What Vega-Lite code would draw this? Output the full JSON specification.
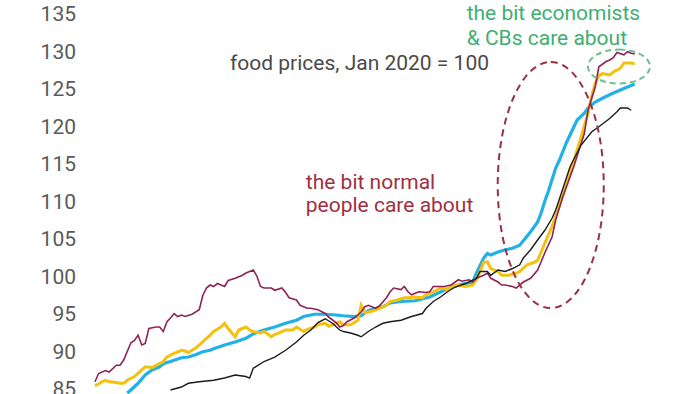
{
  "$schema": "https://vega.github.io/schema/vega-lite/v6.json",
  "width": 615,
  "height": 394,
  "autosize": {"type": "none"},
  "padding": {"left": 85, "top": 0, "right": 0, "bottom": 0},
  "background": "white",
  "config": {
    "view": {"stroke": null},
    "axisY": {"domain": false, "ticks": false, "grid": false, "title": null, "labels": false}
  },
  "datasets": {
    "ticks": [
      {"tick": 85}, {"tick": 90}, {"tick": 95}, {"tick": 100}, {"tick": 105}, {"tick": 110},
      {"tick": 115}, {"tick": 120}, {"tick": 125}, {"tick": 130}, {"tick": 135}
    ],
    "blue": [
      {"date": "2011-10", "value": 84.6}, {"date": "2011-11", "value": 85.0}, {"date": "2012-01", "value": 85.9},
      {"date": "2012-03", "value": 87.0}, {"date": "2012-05", "value": 87.7}, {"date": "2012-07", "value": 88.1},
      {"date": "2012-08", "value": 88.5}, {"date": "2012-10", "value": 88.8}, {"date": "2013-01", "value": 89.3},
      {"date": "2013-03", "value": 89.4}, {"date": "2013-05", "value": 89.7}, {"date": "2013-07", "value": 90.1},
      {"date": "2013-09", "value": 90.3}, {"date": "2013-10", "value": 90.5}, {"date": "2014-01", "value": 91.0},
      {"date": "2014-04", "value": 91.4}, {"date": "2014-07", "value": 91.9}, {"date": "2014-09", "value": 92.5},
      {"date": "2014-12", "value": 93.0}, {"date": "2015-03", "value": 93.4}, {"date": "2015-06", "value": 93.9},
      {"date": "2015-09", "value": 94.3}, {"date": "2015-11", "value": 94.8}, {"date": "2016-02", "value": 95.1},
      {"date": "2016-05", "value": 95.1}, {"date": "2016-08", "value": 95.0}, {"date": "2016-10", "value": 94.9},
      {"date": "2017-01", "value": 94.8}, {"date": "2017-03", "value": 94.9}, {"date": "2017-05", "value": 95.6},
      {"date": "2017-09", "value": 96.1}, {"date": "2017-11", "value": 96.6}, {"date": "2018-02", "value": 96.8},
      {"date": "2018-06", "value": 96.9}, {"date": "2018-10", "value": 97.4}, {"date": "2019-02", "value": 98.3},
      {"date": "2019-06", "value": 99.0}, {"date": "2019-10", "value": 99.4}, {"date": "2019-11", "value": 100.6},
      {"date": "2020-01", "value": 102.6}, {"date": "2020-02", "value": 103.2}, {"date": "2020-03", "value": 103.0},
      {"date": "2020-05", "value": 103.4}, {"date": "2020-07", "value": 103.7}, {"date": "2020-09", "value": 103.9},
      {"date": "2020-11", "value": 104.3}, {"date": "2020-12", "value": 104.9}, {"date": "2021-02", "value": 106.1},
      {"date": "2021-04", "value": 107.4}, {"date": "2021-05", "value": 108.6}, {"date": "2021-06", "value": 110.2},
      {"date": "2021-07", "value": 111.5}, {"date": "2021-09", "value": 114.6}, {"date": "2021-10", "value": 115.6},
      {"date": "2021-12", "value": 118.0}, {"date": "2022-03", "value": 121.0}, {"date": "2022-05", "value": 121.9},
      {"date": "2022-06", "value": 122.6}, {"date": "2022-08", "value": 123.4}, {"date": "2022-10", "value": 123.9},
      {"date": "2023-01", "value": 124.6}, {"date": "2023-04", "value": 125.2}, {"date": "2023-06", "value": 125.6},
      {"date": "2023-07", "value": 125.8}
    ],
    "yellow": [
      {"date": "2011-01", "value": 85.6}, {"date": "2011-02", "value": 85.8}, {"date": "2011-03", "value": 86.1},
      {"date": "2011-04", "value": 86.3}, {"date": "2011-05", "value": 86.1}, {"date": "2011-07", "value": 86.0},
      {"date": "2011-08", "value": 85.9}, {"date": "2011-09", "value": 85.9}, {"date": "2011-10", "value": 86.3},
      {"date": "2011-12", "value": 86.8}, {"date": "2012-02", "value": 87.7}, {"date": "2012-03", "value": 88.1},
      {"date": "2012-05", "value": 88.0}, {"date": "2012-06", "value": 88.3}, {"date": "2012-08", "value": 88.8},
      {"date": "2012-09", "value": 89.4}, {"date": "2012-11", "value": 89.9}, {"date": "2013-01", "value": 90.3},
      {"date": "2013-02", "value": 90.2}, {"date": "2013-03", "value": 90.0}, {"date": "2013-05", "value": 90.6},
      {"date": "2013-06", "value": 91.0}, {"date": "2013-08", "value": 91.9}, {"date": "2013-09", "value": 92.3},
      {"date": "2013-10", "value": 92.8}, {"date": "2013-12", "value": 93.4}, {"date": "2014-01", "value": 93.9},
      {"date": "2014-02", "value": 93.2}, {"date": "2014-04", "value": 92.1}, {"date": "2014-05", "value": 93.0},
      {"date": "2014-07", "value": 93.4}, {"date": "2014-08", "value": 93.0}, {"date": "2014-09", "value": 92.8},
      {"date": "2014-11", "value": 92.6}, {"date": "2014-12", "value": 92.8}, {"date": "2015-02", "value": 92.1},
      {"date": "2015-03", "value": 92.4}, {"date": "2015-04", "value": 92.6}, {"date": "2015-06", "value": 93.0},
      {"date": "2015-08", "value": 93.0}, {"date": "2015-09", "value": 93.4}, {"date": "2015-11", "value": 92.8},
      {"date": "2015-12", "value": 93.1}, {"date": "2016-02", "value": 93.4}, {"date": "2016-03", "value": 93.7},
      {"date": "2016-05", "value": 93.9}, {"date": "2016-06", "value": 93.5}, {"date": "2016-09", "value": 94.1},
      {"date": "2016-10", "value": 93.7}, {"date": "2016-12", "value": 93.7}, {"date": "2017-02", "value": 94.3},
      {"date": "2017-03", "value": 96.3}, {"date": "2017-04", "value": 95.3}, {"date": "2017-06", "value": 95.5},
      {"date": "2017-08", "value": 95.9}, {"date": "2017-10", "value": 96.3}, {"date": "2017-11", "value": 96.8},
      {"date": "2018-01", "value": 97.0}, {"date": "2018-03", "value": 97.3}, {"date": "2018-04", "value": 97.3},
      {"date": "2018-06", "value": 97.4}, {"date": "2018-08", "value": 97.3}, {"date": "2018-09", "value": 97.7},
      {"date": "2018-11", "value": 98.1}, {"date": "2019-01", "value": 98.6}, {"date": "2019-03", "value": 98.4},
      {"date": "2019-04", "value": 98.8}, {"date": "2019-06", "value": 99.0}, {"date": "2019-08", "value": 98.8},
      {"date": "2019-10", "value": 99.0}, {"date": "2019-11", "value": 99.7}, {"date": "2019-12", "value": 100.8},
      {"date": "2020-01", "value": 102.0}, {"date": "2020-02", "value": 102.1}, {"date": "2020-03", "value": 101.2},
      {"date": "2020-05", "value": 100.8}, {"date": "2020-06", "value": 100.3}, {"date": "2020-08", "value": 100.3},
      {"date": "2020-10", "value": 100.6}, {"date": "2020-11", "value": 100.8}, {"date": "2021-01", "value": 101.7},
      {"date": "2021-03", "value": 102.0}, {"date": "2021-04", "value": 102.3}, {"date": "2021-05", "value": 103.4},
      {"date": "2021-06", "value": 104.6}, {"date": "2021-08", "value": 106.8}, {"date": "2021-09", "value": 108.2},
      {"date": "2021-11", "value": 111.0}, {"date": "2022-01", "value": 113.9}, {"date": "2022-04", "value": 118.6},
      {"date": "2022-06", "value": 121.9}, {"date": "2022-07", "value": 124.1}, {"date": "2022-08", "value": 125.9},
      {"date": "2022-09", "value": 126.9}, {"date": "2022-10", "value": 127.2}, {"date": "2022-12", "value": 127.0},
      {"date": "2023-01", "value": 127.4}, {"date": "2023-03", "value": 127.9}, {"date": "2023-04", "value": 128.6},
      {"date": "2023-06", "value": 128.6}, {"date": "2023-07", "value": 128.5}
    ],
    "red": [
      {"date": "2011-01", "value": 86.1}, {"date": "2011-02", "value": 87.2}, {"date": "2011-04", "value": 87.6},
      {"date": "2011-05", "value": 87.4}, {"date": "2011-07", "value": 88.3}, {"date": "2011-08", "value": 88.3},
      {"date": "2011-09", "value": 89.0}, {"date": "2011-11", "value": 91.3}, {"date": "2011-12", "value": 91.6},
      {"date": "2012-01", "value": 92.3}, {"date": "2012-02", "value": 91.0}, {"date": "2012-03", "value": 91.2},
      {"date": "2012-04", "value": 93.2}, {"date": "2012-06", "value": 93.4}, {"date": "2012-07", "value": 93.4},
      {"date": "2012-08", "value": 92.8}, {"date": "2012-09", "value": 94.1}, {"date": "2012-10", "value": 94.6},
      {"date": "2012-11", "value": 95.2}, {"date": "2012-12", "value": 94.8}, {"date": "2013-01", "value": 95.0},
      {"date": "2013-02", "value": 94.8}, {"date": "2013-04", "value": 95.1}, {"date": "2013-06", "value": 95.7},
      {"date": "2013-07", "value": 97.6}, {"date": "2013-08", "value": 98.6}, {"date": "2013-09", "value": 99.0},
      {"date": "2013-10", "value": 98.8}, {"date": "2013-11", "value": 99.2}, {"date": "2014-01", "value": 98.8},
      {"date": "2014-02", "value": 99.6}, {"date": "2014-04", "value": 99.9}, {"date": "2014-06", "value": 100.3},
      {"date": "2014-07", "value": 100.6}, {"date": "2014-08", "value": 100.8}, {"date": "2014-09", "value": 101.0},
      {"date": "2014-10", "value": 100.2}, {"date": "2014-11", "value": 98.8}, {"date": "2014-12", "value": 98.6},
      {"date": "2015-02", "value": 98.6}, {"date": "2015-03", "value": 98.3}, {"date": "2015-05", "value": 98.6},
      {"date": "2015-06", "value": 98.0}, {"date": "2015-07", "value": 97.3}, {"date": "2015-09", "value": 97.0},
      {"date": "2015-10", "value": 96.3}, {"date": "2015-12", "value": 95.9}, {"date": "2016-01", "value": 95.9},
      {"date": "2016-03", "value": 95.7}, {"date": "2016-05", "value": 95.2}, {"date": "2016-06", "value": 94.7},
      {"date": "2016-08", "value": 94.0}, {"date": "2016-09", "value": 93.4}, {"date": "2016-10", "value": 93.6},
      {"date": "2016-11", "value": 94.1}, {"date": "2017-01", "value": 94.6}, {"date": "2017-03", "value": 95.4},
      {"date": "2017-04", "value": 96.1}, {"date": "2017-05", "value": 96.3}, {"date": "2017-07", "value": 95.9},
      {"date": "2017-08", "value": 96.2}, {"date": "2017-10", "value": 97.3}, {"date": "2017-11", "value": 98.1},
      {"date": "2017-12", "value": 98.6}, {"date": "2018-02", "value": 98.4}, {"date": "2018-03", "value": 98.8},
      {"date": "2018-04", "value": 98.1}, {"date": "2018-05", "value": 97.7}, {"date": "2018-07", "value": 98.1},
      {"date": "2018-09", "value": 98.0}, {"date": "2018-10", "value": 98.1}, {"date": "2018-11", "value": 98.8},
      {"date": "2019-01", "value": 98.8}, {"date": "2019-02", "value": 98.8}, {"date": "2019-04", "value": 99.0},
      {"date": "2019-06", "value": 99.7}, {"date": "2019-07", "value": 99.5}, {"date": "2019-09", "value": 99.7},
      {"date": "2019-10", "value": 99.4}, {"date": "2019-11", "value": 99.9}, {"date": "2020-01", "value": 100.3},
      {"date": "2020-02", "value": 100.6}, {"date": "2020-03", "value": 99.9}, {"date": "2020-05", "value": 99.4},
      {"date": "2020-06", "value": 99.0}, {"date": "2020-07", "value": 99.0}, {"date": "2020-09", "value": 98.8},
      {"date": "2020-10", "value": 98.6}, {"date": "2020-11", "value": 99.0}, {"date": "2020-12", "value": 99.4},
      {"date": "2021-02", "value": 99.9}, {"date": "2021-04", "value": 101.0}, {"date": "2021-05", "value": 102.1},
      {"date": "2021-06", "value": 103.3}, {"date": "2021-08", "value": 105.4}, {"date": "2021-09", "value": 107.7},
      {"date": "2021-11", "value": 110.8}, {"date": "2022-02", "value": 114.8}, {"date": "2022-05", "value": 119.2},
      {"date": "2022-06", "value": 122.3}, {"date": "2022-08", "value": 125.4}, {"date": "2022-09", "value": 128.1},
      {"date": "2022-11", "value": 128.8}, {"date": "2022-12", "value": 129.0}, {"date": "2023-01", "value": 129.3},
      {"date": "2023-02", "value": 130.0}, {"date": "2023-04", "value": 129.7}, {"date": "2023-05", "value": 130.1},
      {"date": "2023-06", "value": 129.9}, {"date": "2023-07", "value": 129.8}
    ],
    "black": [
      {"date": "2012-10", "value": 85.0}, {"date": "2013-01", "value": 85.4}, {"date": "2013-03", "value": 85.9},
      {"date": "2013-06", "value": 86.1}, {"date": "2013-10", "value": 86.3}, {"date": "2014-01", "value": 86.6},
      {"date": "2014-04", "value": 87.0}, {"date": "2014-07", "value": 86.8}, {"date": "2014-08", "value": 86.6},
      {"date": "2014-09", "value": 87.9}, {"date": "2014-12", "value": 88.8}, {"date": "2015-03", "value": 89.4},
      {"date": "2015-06", "value": 90.3}, {"date": "2015-09", "value": 91.4}, {"date": "2015-11", "value": 92.3},
      {"date": "2016-01", "value": 93.0}, {"date": "2016-03", "value": 94.0}, {"date": "2016-05", "value": 94.5},
      {"date": "2016-07", "value": 93.9}, {"date": "2016-09", "value": 93.0}, {"date": "2016-10", "value": 92.8},
      {"date": "2016-12", "value": 92.6}, {"date": "2017-02", "value": 92.3}, {"date": "2017-03", "value": 92.1},
      {"date": "2017-05", "value": 92.8}, {"date": "2017-07", "value": 93.4}, {"date": "2017-09", "value": 93.9},
      {"date": "2017-11", "value": 94.1}, {"date": "2018-02", "value": 94.3}, {"date": "2018-05", "value": 94.8},
      {"date": "2018-08", "value": 95.2}, {"date": "2018-09", "value": 95.9}, {"date": "2018-11", "value": 96.8},
      {"date": "2019-01", "value": 97.4}, {"date": "2019-03", "value": 98.1}, {"date": "2019-05", "value": 98.7},
      {"date": "2019-08", "value": 99.2}, {"date": "2019-11", "value": 99.9}, {"date": "2019-12", "value": 100.8},
      {"date": "2020-02", "value": 100.8}, {"date": "2020-03", "value": 100.3}, {"date": "2020-05", "value": 101.0},
      {"date": "2020-07", "value": 100.8}, {"date": "2020-09", "value": 101.2}, {"date": "2020-11", "value": 101.7},
      {"date": "2020-12", "value": 102.6}, {"date": "2021-02", "value": 103.7}, {"date": "2021-04", "value": 105.0},
      {"date": "2021-06", "value": 106.3}, {"date": "2021-08", "value": 107.9}, {"date": "2021-09", "value": 109.0},
      {"date": "2021-10", "value": 110.4}, {"date": "2022-01", "value": 114.8}, {"date": "2022-04", "value": 117.6},
      {"date": "2022-07", "value": 119.4}, {"date": "2022-09", "value": 120.1}, {"date": "2022-12", "value": 121.2},
      {"date": "2023-02", "value": 122.1}, {"date": "2023-03", "value": 122.6}, {"date": "2023-05", "value": 122.6},
      {"date": "2023-06", "value": 122.3}
    ]
  },
  "layer": [
    {
      "data": {"name": "blue"},
      "mark": {"type": "line", "color": "#22b0e6", "strokeWidth": 3.2, "clip": true},
      "encoding": {
        "x": {"field": "date", "type": "temporal", "axis": null,
              "scale": {"domain": ["2010-10-09", "2025-01-03"]}},
        "y": {"field": "value", "type": "quantitative",
              "scale": {"domain": [84.47, 137], "nice": false, "zero": false}}
      }
    },
    {
      "data": {"name": "yellow"},
      "mark": {"type": "line", "color": "#f4c10f", "strokeWidth": 3, "clip": true},
      "encoding": {
        "x": {"field": "date", "type": "temporal"},
        "y": {"field": "value", "type": "quantitative"}
      }
    },
    {
      "data": {"name": "red"},
      "mark": {"type": "line", "color": "#8e2455", "strokeWidth": 1.6, "clip": true},
      "encoding": {
        "x": {"field": "date", "type": "temporal"},
        "y": {"field": "value", "type": "quantitative"}
      }
    },
    {
      "data": {"name": "black"},
      "mark": {"type": "line", "color": "#1c1c1c", "strokeWidth": 1.4, "clip": true},
      "encoding": {
        "x": {"field": "date", "type": "temporal"},
        "y": {"field": "value", "type": "quantitative"}
      }
    },
    {
      "data": {"name": "ticks"},
      "mark": {"type": "text", "align": "right", "baseline": "middle", "dx": -9,
               "font": "Roboto", "fontSize": 21, "color": "#5a5a5a"},
      "encoding": {
        "x": {"datum": {"year": 2010, "month": 10, "date": 9}, "type": "temporal"},
        "y": {"field": "tick", "type": "quantitative"},
        "text": {"field": "tick", "type": "quantitative"}
      }
    },
    {
      "data": {"values": [{}]},
      "mark": {"type": "point", "filled": false, "size": 60516, "opacity": 1,
               "shape": "M0,-1C0.238,-1 0.431,-0.552 0.431,0C0.431,0.552 0.238,1 0,1C-0.238,1 -0.431,0.552 -0.431,0C-0.431,-0.552 -0.238,-1 0,-1Z",
               "stroke": "#9a3048", "strokeWidth": 2, "strokeDash": [7, 5]},
      "encoding": {
        "x": {"datum": {"year": 2021, "month": 7, "date": 21}, "type": "temporal"},
        "y": {"datum": 112.33, "type": "quantitative"}
      }
    },
    {
      "data": {"values": [{}]},
      "mark": {"type": "point", "filled": false, "size": 3844, "opacity": 1,
               "shape": "M0,-0.548C0.552,-0.548 1,-0.303 1,0C1,0.303 0.552,0.548 0,0.548C-0.552,0.548 -1,0.303 -1,0C-1,-0.303 -0.552,-0.548 0,-0.548Z",
               "stroke": "#6cbf92", "strokeWidth": 2, "strokeDash": [6, 4]},
      "encoding": {
        "x": {"datum": {"year": 2023, "month": 2, "date": 18}, "type": "temporal"},
        "y": {"datum": 128.13, "type": "quantitative"}
      }
    },
    {
      "data": {"values": [{}]},
      "mark": {"type": "text", "text": "food prices, Jan 2020 = 100", "align": "left", "baseline": "alphabetic",
               "font": "Roboto", "fontSize": 21, "color": "#4a4a4a"},
      "encoding": {
        "x": {"datum": {"year": 2014, "month": 2, "date": 16}, "type": "temporal"},
        "y": {"datum": 127.67, "type": "quantitative"}
      }
    },
    {
      "data": {"values": [{}]},
      "mark": {"type": "text", "text": ["the bit normal", "people care about"], "align": "left", "baseline": "alphabetic",
               "lineHeight": 23, "font": "Roboto", "fontSize": 21, "color": "#a0303f"},
      "encoding": {
        "x": {"datum": {"year": 2015, "month": 11, "date": 19}, "type": "temporal"},
        "y": {"datum": 111.8, "type": "quantitative"}
      }
    },
    {
      "data": {"values": [{}]},
      "mark": {"type": "text", "text": ["the bit economists", "& CBs care about"], "align": "left", "baseline": "alphabetic",
               "lineHeight": 25, "font": "Roboto", "fontSize": 21, "color": "#3fae72"},
      "encoding": {
        "x": {"datum": {"year": 2019, "month": 8, "date": 10}, "type": "temporal"},
        "y": {"datum": 134.33, "type": "quantitative"}
      }
    }
  ]
}
